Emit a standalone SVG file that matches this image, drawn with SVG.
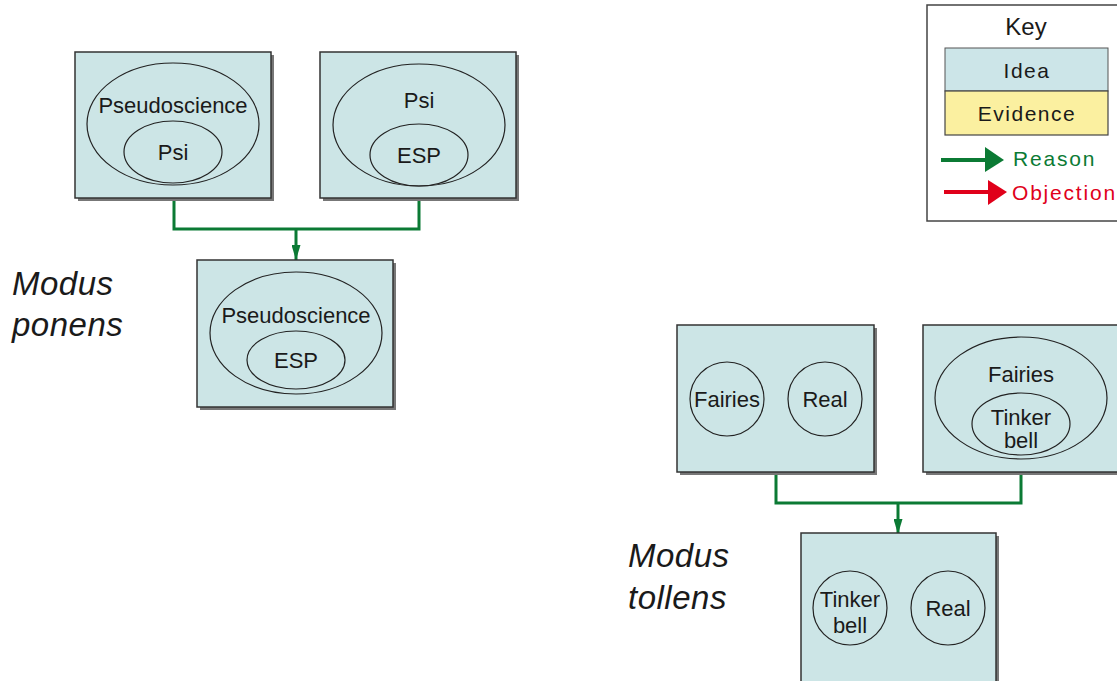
<svg xmlns="http://www.w3.org/2000/svg" width="1117" height="681" viewBox="0 0 1117 681">
<style>
text{font-family:"Liberation Sans",Arial,sans-serif;fill:#1a1a1a}
.box{fill:#cce5e6;stroke:#333;stroke-width:1.5}
.sh{fill:#777}
.el{fill:none;stroke:#222;stroke-width:1.2}
.t{font-size:22px;text-anchor:middle}
.m{font-size:33px;font-style:italic;letter-spacing:0.5px}
.k{font-size:21px;letter-spacing:1.5px}
.r{font-size:21px;letter-spacing:1.8px}
.con{fill:none;stroke:#0b7a34;stroke-width:3}
</style>
<defs>
<marker id="ah" viewBox="0 0 15 9" refX="15" refY="4.5" markerWidth="15" markerHeight="9" markerUnits="userSpaceOnUse" orient="auto">
<path d="M0,0 L15,4.5 L0,9 Z" fill="#0b7a34"/>
</marker>
</defs>
<rect width="1117" height="681" fill="#fff"/>
<g id="connectors">
<path class="con" d="M174,198 V229 H419 V198"/>
<path class="con" d="M296,229 V260" marker-end="url(#ah)"/>
<path class="con" d="M776,472 V503 H1021 V472"/>
<path class="con" d="M898,503 V534" marker-end="url(#ah)"/>
</g>
<g id="n1">
<rect class="sh" x="78" y="55" width="196" height="146"/>
<rect class="box" x="75" y="52" width="196" height="146"/>
<ellipse class="el" cx="173" cy="124" rx="86" ry="61"/>
<ellipse class="el" cx="173" cy="152" rx="49" ry="31"/>
<text class="t" x="173" y="113">Pseudoscience</text>
<text class="t" x="173" y="160">Psi</text>
</g>
<g id="n2">
<rect class="sh" x="323" y="55" width="196" height="146"/>
<rect class="box" x="320" y="52" width="196" height="146"/>
<ellipse class="el" cx="419" cy="125" rx="86" ry="61"/>
<ellipse class="el" cx="419" cy="155" rx="49" ry="31"/>
<text class="t" x="419" y="108">Psi</text>
<text class="t" x="419" y="163">ESP</text>
</g>
<g id="n3">
<rect class="sh" x="200" y="263" width="196" height="147"/>
<rect class="box" x="197" y="260" width="196" height="147"/>
<ellipse class="el" cx="296" cy="333" rx="86" ry="61"/>
<ellipse class="el" cx="296" cy="360" rx="49" ry="29"/>
<text class="t" x="296" y="323">Pseudoscience</text>
<text class="t" x="296" y="368">ESP</text>
</g>
<g id="label-ponens">
<text class="m" x="12" y="295">Modus</text>
<text class="m" x="12" y="336">ponens</text>
</g>
<g id="key">
<rect x="927" y="5" width="200" height="216" fill="#fff" stroke="#444" stroke-width="1.5"/>
<text x="1026" y="35" font-size="24" text-anchor="middle">Key</text>
<rect x="945" y="48" width="163" height="43" fill="#cce5e8" stroke="#555" stroke-width="1"/>
<rect x="945" y="91" width="163" height="44" fill="#fbf0a0" stroke="#444" stroke-width="1.2"/>
<text class="k" x="1027" y="78" text-anchor="middle">Idea</text>
<text class="k" x="1027" y="121" text-anchor="middle">Evidence</text>
<path d="M941,160 H987" stroke="#0b7a34" stroke-width="4"/>
<path d="M985,147 L1004,160 L985,172 Z" fill="#0b7a34"/>
<text class="r" x="1013" y="166" style="fill:#0b7a34">Reason</text>
<path d="M944,192 H990" stroke="#e0001a" stroke-width="4"/>
<path d="M988,180 L1007,192 L988,205 Z" fill="#e0001a"/>
<text class="r" x="1012" y="200" style="fill:#e0001a">Objection</text>
</g>
<g id="n4">
<rect class="sh" x="680" y="328" width="197" height="147"/>
<rect class="box" x="677" y="325" width="197" height="147"/>
<circle class="el" cx="727" cy="399" r="37"/>
<circle class="el" cx="825" cy="399" r="37"/>
<text class="t" x="727" y="407">Fairies</text>
<text class="t" x="825" y="407">Real</text>
</g>
<g id="n5">
<rect class="sh" x="926" y="328" width="197" height="147"/>
<rect class="box" x="923" y="325" width="197" height="147"/>
<ellipse class="el" cx="1021" cy="398" rx="86" ry="61"/>
<ellipse class="el" cx="1021" cy="424" rx="49" ry="31"/>
<text class="t" x="1021" y="382">Fairies</text>
<text class="t" x="1021" y="425">Tinker</text>
<text class="t" x="1021" y="448">bell</text>
</g>
<g id="n6">
<rect class="sh" x="804" y="536" width="195" height="150"/>
<rect class="box" x="801" y="533" width="195" height="150"/>
<circle class="el" cx="850" cy="608" r="37"/>
<circle class="el" cx="948" cy="608" r="37"/>
<text class="t" x="850" y="607">Tinker</text>
<text class="t" x="850" y="633">bell</text>
<text class="t" x="948" y="616">Real</text>
</g>
<g id="label-tollens">
<text class="m" x="628" y="567">Modus</text>
<text class="m" x="628" y="609">tollens</text>
</g>
</svg>
